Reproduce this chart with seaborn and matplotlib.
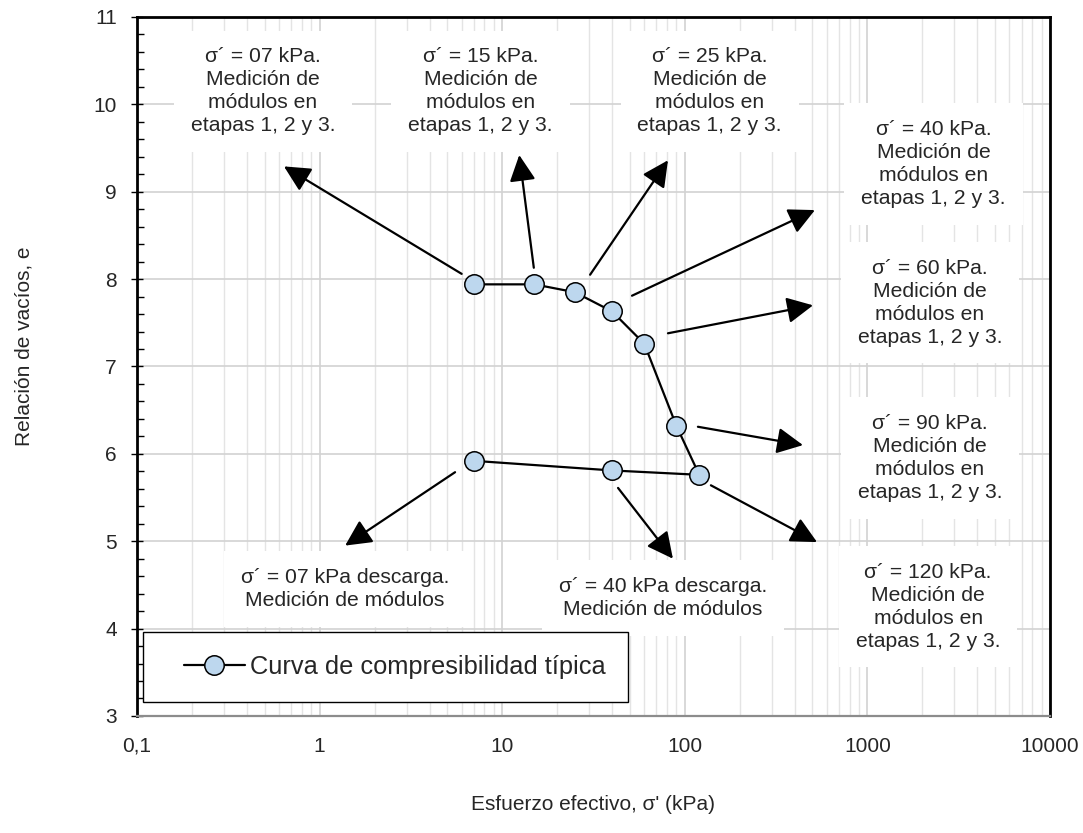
import matplotlib
matplotlib.use("Agg")
import matplotlib.pyplot as plt
import seaborn as sns
import pandas as pd
from matplotlib.legend_handler import HandlerLine2D
from matplotlib.ticker import FixedLocator, LogLocator, NullFormatter, MultipleLocator

# Compressibility curve: loading then unloading
sigma = [7, 15, 25, 40, 60, 90, 120, 40, 7]
void_ratio = [7.94, 7.94, 7.85, 7.63, 7.26, 6.32, 5.76, 5.81, 5.92]

# Annotation texts
labels = [
    "σ´ = 07 kPa.\nMedición de\nmódulos en\netapas 1, 2 y 3.",
    "σ´ = 15 kPa.\nMedición de\nmódulos en\netapas 1, 2 y 3.",
    "σ´ = 25 kPa.\nMedición de\nmódulos en\netapas 1, 2 y 3.",
    "σ´ = 40 kPa.\nMedición de\nmódulos en\netapas 1, 2 y 3.",
    "σ´ = 60 kPa.\nMedición de\nmódulos en\netapas 1, 2 y 3.",
    "σ´ = 90 kPa.\nMedición de\nmódulos en\netapas 1, 2 y 3.",
    "σ´ = 120 kPa.\nMedición de\nmódulos en\netapas 1, 2 y 3.",
    "σ´ = 07 kPa descarga.\nMedición de módulos",
    "σ´ = 40 kPa descarga.\nMedición de módulos",
]
label_x = [0.49, 7.6, 137, 2300, 2200, 2200, 2150, 1.38, 76]
label_y = [10.15, 10.15, 10.15, 9.32, 7.73, 5.95, 4.25, 4.45, 4.35]

# Arrow tails (near the points) and heads (towards the texts)
arrow_tail_x = [6.0, 14.9, 30.3, 51.4, 80.9, 118, 139, 5.52, 43.1]
arrow_tail_y = [8.06, 8.13, 8.05, 7.81, 7.38, 6.31, 5.64, 5.79, 5.61]
arrow_head_x = [0.638, 12.4, 80.9, 516, 504, 444, 530, 1.38, 86.1]
arrow_head_y = [9.29, 9.42, 9.36, 8.79, 7.70, 6.10, 4.99, 4.95, 4.80]

x_ticks = [0.1, 1, 10, 100, 1000, 10000]
x_ticklabels = ["0,1", "1", "10", "100", "1000", "10000"]
y_ticks = [3, 4, 5, 6, 7, 8, 9, 10, 11]

sns.set_style("white")
plt.rcParams["font.family"] = ["Liberation Sans", "DejaVu Sans"]

fig = plt.figure(figsize=(10.83, 8.33), dpi=100)
ax = fig.add_axes([0.1265, 0.1405, 0.843, 0.8391])

df = pd.DataFrame({"sigma": sigma, "e": void_ratio})
sns.lineplot(data=df, x="sigma", y="e", sort=False, estimator=None, ax=ax,
             color="black", linewidth=1.6, marker="o", markersize=14,
             markerfacecolor="#BDD7EE", markeredgecolor="black",
             markeredgewidth=1.1, label="Curva de compresibilidad típica",
             zorder=5)

ax.set_xscale("log")
ax.set_xlim(0.1, 10000)
ax.set_ylim(3, 11)

ax.xaxis.set_major_locator(FixedLocator(x_ticks))
ax.set_xticklabels(x_ticklabels)
ax.xaxis.set_minor_locator(LogLocator(base=10, subs=range(2, 10), numticks=20))
ax.xaxis.set_minor_formatter(NullFormatter())
ax.yaxis.set_major_locator(FixedLocator(y_ticks))
ax.yaxis.set_minor_locator(MultipleLocator(0.2))

ax.grid(which="major", axis="both", color="#D2D2D2", linewidth=1.2)
ax.grid(which="minor", axis="x", color="#E4E4E4", linewidth=1.0)
ax.set_axisbelow(True)

ax.tick_params(axis="x", which="major", length=5, color="#999999", width=1,
               labelsize=15, pad=10, direction="out")
ax.tick_params(axis="x", which="minor", length=0)
ax.tick_params(axis="y", which="major", length=9, color="black", width=1,
               labelsize=15, pad=10, direction="inout", left=True)
ax.tick_params(axis="y", which="minor", length=5, color="black", width=1,
               direction="in", left=True)

for side in ["left", "top", "right"]:
    ax.spines[side].set_color("black")
    ax.spines[side].set_linewidth(2.0)
ax.spines["bottom"].set_color("#8C8C8C")
ax.spines["bottom"].set_linewidth(1.6)

ax.set_xlabel("Esfuerzo efectivo, σ' (kPa)", fontsize=15, labelpad=28)
ax.set_ylabel("Relación de vacíos, e", fontsize=15)
ax.yaxis.set_label_coords(-0.113, 0.529)

for txt, tx, ty in zip(labels, label_x, label_y):
    ax.text(tx, ty, txt, ha="center", va="center", fontsize=15.2,
            linespacing=1.26, zorder=3,
            bbox=dict(boxstyle="square,pad=0.8", facecolor="white",
                      edgecolor="none"))

for x0, y0, x1, y1 in zip(arrow_tail_x, arrow_tail_y, arrow_head_x, arrow_head_y):
    ax.annotate("", xy=(x1, y1), xytext=(x0, y0),
                arrowprops=dict(arrowstyle="-|>,head_length=0.8,head_width=0.4",
                                color="black", lw=1.6, shrinkA=0, shrinkB=0,
                                mutation_scale=20),
                zorder=4)

handles, names = ax.get_legend_handles_labels()
leg = ax.legend(handles, names, loc="lower left",
                bbox_to_anchor=(0.0066, 0.02), borderaxespad=0, fontsize=18.3,
                frameon=True, fancybox=False, edgecolor="black", framealpha=1,
                handlelength=3.1, handletextpad=0.2, borderpad=0.9,
                handler_map={handles[0]: HandlerLine2D(xpad=0.7)})
leg.get_frame().set_linewidth(1.0)

fig.savefig("out.png", dpi=100)
